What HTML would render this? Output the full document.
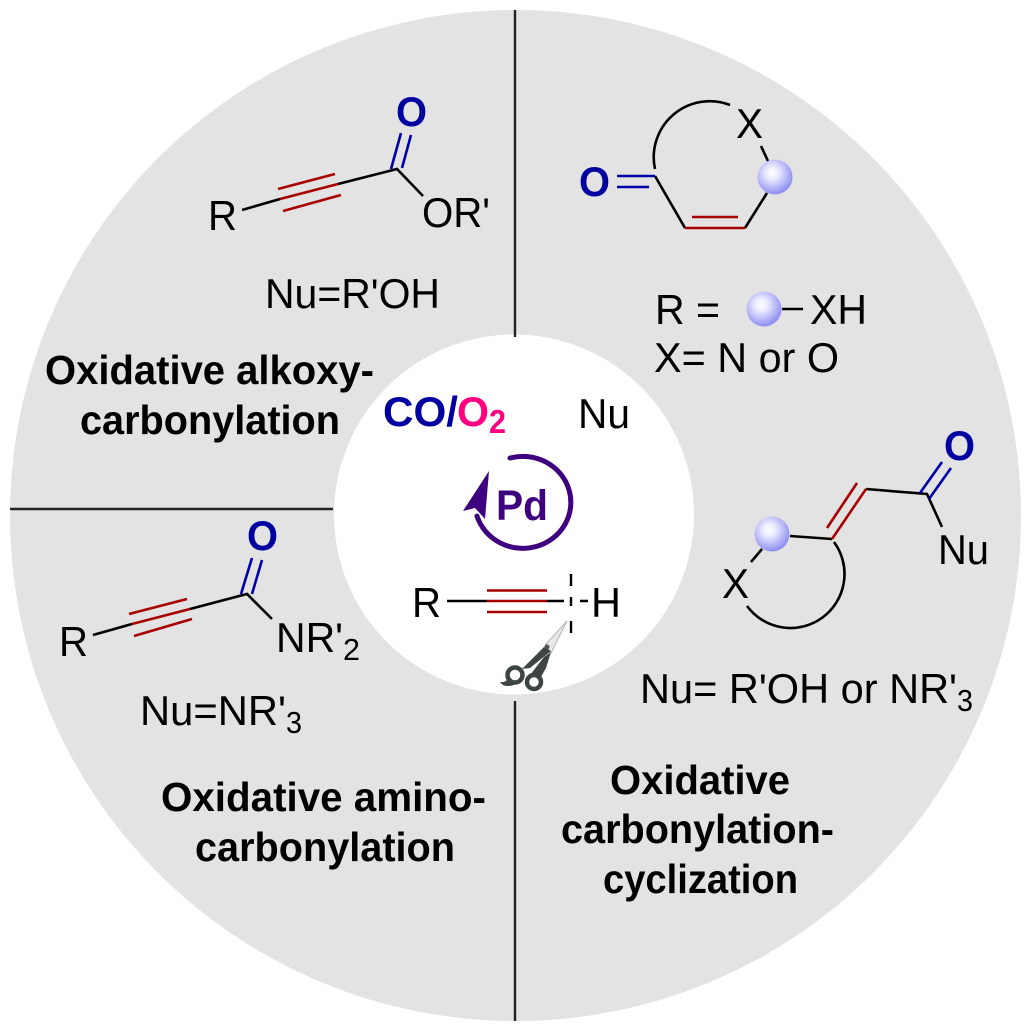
<!DOCTYPE html>
<html><head><meta charset="utf-8"><style>
html,body{margin:0;padding:0;background:#fff}
svg{display:block}
text{font-family:"Liberation Sans",sans-serif;fill:#000}
.b{font-weight:bold}
.h{font-weight:bold;font-size:41px}
.t{font-size:42px}
.o{font-weight:bold;font-size:42px;fill:#0000a0}
.s{font-size:31px}
.k{stroke:#000;stroke-width:2.6;fill:none}
.r{stroke:#a80000;stroke-width:2.6;fill:none}
.u{stroke:#0000a8;stroke-width:2.6;fill:none}
</style></head><body>
<svg width="1031" height="1031" viewBox="0 0 1031 1031" xmlns="http://www.w3.org/2000/svg">
<defs>
<radialGradient id="s" cx="0.42" cy="0.38" r="0.62">
<stop offset="0" stop-color="#ffffff"/><stop offset="0.3" stop-color="#eaeaff"/><stop offset="1" stop-color="#8e8ef2"/>
</radialGradient>
</defs>
<circle cx="515.5" cy="515.5" r="505.5" fill="#e3e3e3"/>
<circle cx="514" cy="514.500" r="180" fill="#fff"/>
<path d="M515 10V337M515 701V1021M10 509H333" stroke="#222" stroke-width="2.4" fill="none"/>

<!-- top-left -->
<path class="k" d="M242 210L280 199M338 184L397 169L423 196"/>
<path class="r" d="M280 199L338 184M278 189L335 174M283 211L341 195"/>
<path class="u" d="M391 169L401 133M402 168L411 135"/>
<text x="396" y="126" class="o" textLength="31" lengthAdjust="spacingAndGlyphs">O</text>
<text x="208" y="230" class="t" textLength="29" lengthAdjust="spacingAndGlyphs">R</text>
<text x="422" y="227" class="t" textLength="68" lengthAdjust="spacingAndGlyphs">OR'</text>
<text x="265" y="308" class="t" textLength="175" lengthAdjust="spacingAndGlyphs">Nu=R'OH</text>
<text x="45" y="384" class="h" textLength="329" lengthAdjust="spacingAndGlyphs">Oxidative alkoxy-</text>
<text x="80" y="434" class="h" textLength="260" lengthAdjust="spacingAndGlyphs">carbonylation</text>

<!-- top-right -->
<path class="k" d="M655 169A56 56 0 0 1 730 105M655 176L685 228M745 228L767 193M761 146L768 161"/>
<path class="r" d="M685 228H745M692 217H738"/>
<path class="u" d="M617 176H655M617 187H649"/>
<circle cx="775" cy="177" r="17.500" fill="url(#s)"/>
<text x="579" y="196" class="o" textLength="31" lengthAdjust="spacingAndGlyphs">O</text>
<text x="736" y="138" class="t" textLength="27" lengthAdjust="spacingAndGlyphs">X</text>
<text x="655" y="324" class="t" textLength="65" lengthAdjust="spacingAndGlyphs">R =</text>
<circle cx="764" cy="309" r="17.500" fill="url(#s)"/>
<path class="k" d="M782 309H803"/>
<text x="810" y="324" class="t" textLength="57" lengthAdjust="spacingAndGlyphs">XH</text>
<text x="654" y="372" class="t" textLength="185" lengthAdjust="spacingAndGlyphs">X= N or O</text>

<!-- right -->
<path class="k" d="M790 536L832 539M866 489L927 494L942 527M762 549L751 562M834 542A54 54 0 0 1 747 606"/>
<path class="r" d="M866 489L832 539M857 483L827 528"/>
<path class="u" d="M920 493L942 462M929 499L951 468"/>
<circle cx="772" cy="534" r="17.500" fill="url(#s)"/>
<text x="944" y="460" class="o" textLength="31" lengthAdjust="spacingAndGlyphs">O</text>
<text x="938" y="564" class="t" textLength="51" lengthAdjust="spacingAndGlyphs">Nu</text>
<text x="722" y="598" class="t" textLength="27" lengthAdjust="spacingAndGlyphs">X</text>
<text x="640" y="703" class="t" textLength="317" lengthAdjust="spacingAndGlyphs">Nu= R'OH or NR'</text>
<text x="957" y="711" class="s" textLength="16" lengthAdjust="spacingAndGlyphs">3</text>
<text x="610" y="794" class="h" textLength="180" lengthAdjust="spacingAndGlyphs">Oxidative</text>
<text x="561" y="843" class="h" textLength="273" lengthAdjust="spacingAndGlyphs">carbonylation-</text>
<text x="603" y="893" class="h" textLength="195" lengthAdjust="spacingAndGlyphs">cyclization</text>

<!-- left -->
<path class="k" d="M93 635L132 624M190 609L247 594L272 619"/>
<path class="r" d="M132 624L190 609M129 614L187 599M134 636L192 619"/>
<path class="u" d="M241 594L252 558M252 594L262 560"/>
<text x="247" y="550" class="o" textLength="31" lengthAdjust="spacingAndGlyphs">O</text>
<text x="59" y="656" class="t" textLength="29" lengthAdjust="spacingAndGlyphs">R</text>
<text x="276" y="652" class="t" textLength="67" lengthAdjust="spacingAndGlyphs">NR'</text>
<text x="343" y="660" class="s" textLength="17" lengthAdjust="spacingAndGlyphs">2</text>
<text x="140" y="725" class="t" textLength="146" lengthAdjust="spacingAndGlyphs">Nu=NR'</text>
<text x="286" y="733" class="s" textLength="16" lengthAdjust="spacingAndGlyphs">3</text>
<text x="161" y="811" class="h" textLength="325" lengthAdjust="spacingAndGlyphs">Oxidative amino-</text>
<text x="195" y="861" class="h" textLength="260" lengthAdjust="spacingAndGlyphs">carbonylation</text>

<!-- center -->
<text x="383" y="426" class="b" font-size="42" style="fill:#0000a0" textLength="75" lengthAdjust="spacingAndGlyphs">CO/</text>
<text x="457" y="426" class="b" font-size="42" style="fill:#ff0080" textLength="32" lengthAdjust="spacingAndGlyphs">O</text>
<text x="489" y="433" class="b" font-size="33" style="fill:#ff0080" textLength="17" lengthAdjust="spacingAndGlyphs">2</text>
<text x="578" y="428" class="t" textLength="52" lengthAdjust="spacingAndGlyphs">Nu</text>
<path d="M510 458A48 46 0 1 1 477 516" fill="none" stroke="#3f0080" stroke-width="5" stroke-linecap="round"/>
<path d="M489 471L463 511L475 508L485 519Z" fill="#3f0080"/>
<text x="496" y="520" class="b" font-size="43" style="fill:#3f0080" textLength="52" lengthAdjust="spacingAndGlyphs">Pd</text>
<text x="412" y="617" class="t" textLength="29" lengthAdjust="spacingAndGlyphs">R</text>
<path class="k" d="M447 601H487M547 601H564M580 601H588"/>
<path class="r" d="M487 590.500H547M487 601H547M487 612H547"/>
<path d="M571 574V586M571 597V606M571 621V633" stroke="#000" stroke-width="2.4" fill="none"/>
<text x="591" y="617" class="t" textLength="30" lengthAdjust="spacingAndGlyphs">H</text>

<!-- scissors -->
<path d="M567 621L545 645L551 653Z" fill="#e8e8e8" stroke="#b5b5b5" stroke-width="1"/>
<path d="M544 647L551 651L546 655L530 668L522 669Z" fill="#3d4543"/>
<path d="M551 652L546 668L541 677L530 675L544 657Z" fill="#3d4543"/>
<path d="M508 679C505 683 501 682 500 682C503 687 510 687 516 684Z" fill="#3d4543"/>
<circle cx="515" cy="675" r="7.500" fill="#fff" stroke="#3d4543" stroke-width="4.500"/>
<circle cx="534" cy="682" r="7" fill="#fff" stroke="#3d4543" stroke-width="4.500"/>
<circle cx="547" cy="647" r="2.500" fill="#555"/>
</svg>
</body></html>
